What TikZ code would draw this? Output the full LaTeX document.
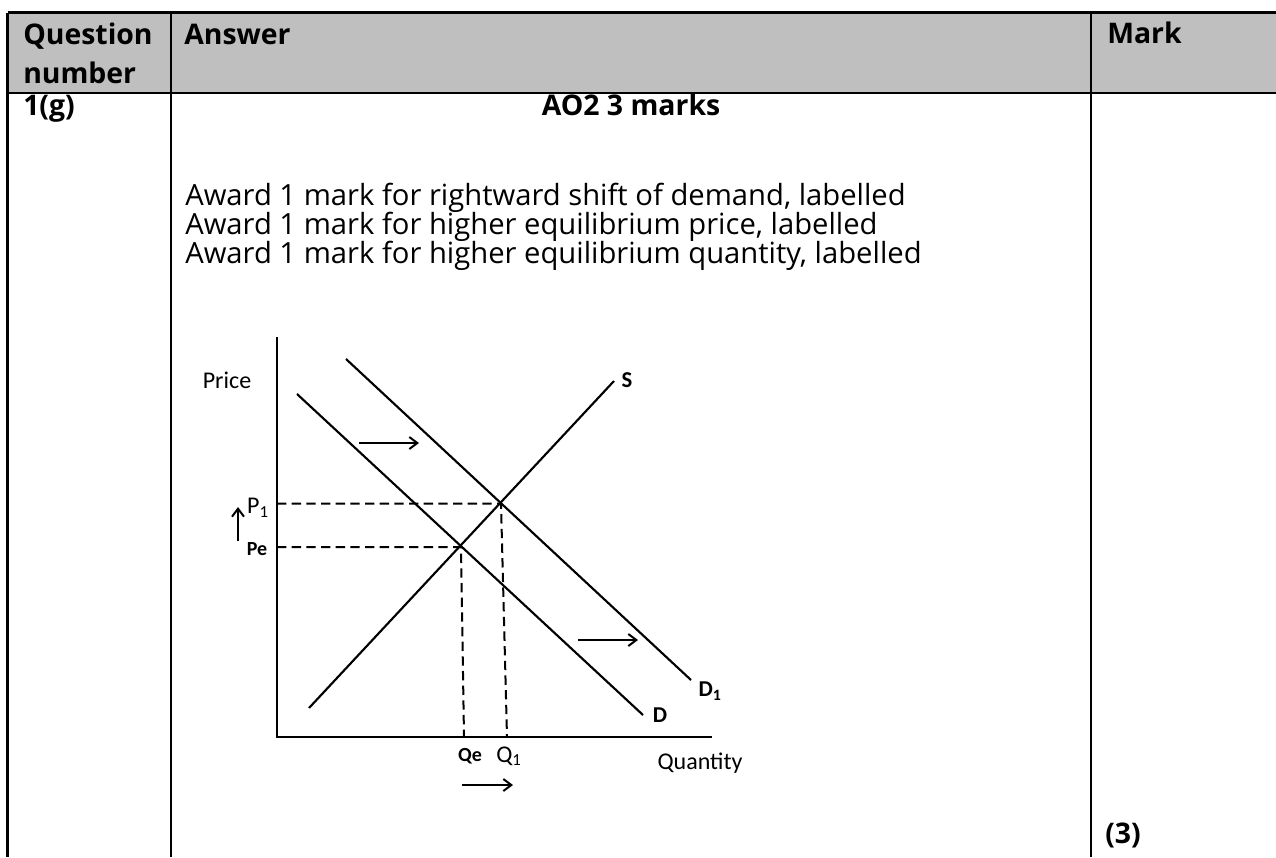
\documentclass[tikz,border=0pt]{standalone}
\usepackage{fontspec}
\setmainfont{Open Sans}
\newfontfamily\graphfont{Carlito}
\usetikzlibrary{arrows.meta}
\definecolor{headgray}{HTML}{BFBFBF}
\begin{document}
\begin{tikzpicture}[x=0.75pt,y=-0.75pt,
  rule/.style={line width=2pt},
  curve/.style={line width=1.6pt},
  guide/.style={line width=1.5pt, dash pattern=on 7pt off 4pt},
  shiftarrow/.style={line width=1.5pt,-{Straight Barb[length=6pt,width=9pt]}},
  cell/.style={inner sep=0pt, anchor=base west, font=\fontsize{21.9}{26}\selectfont},
  cellbold/.style={cell, font=\fontsize{21.3}{26}\selectfont\bfseries},
  glabel/.style={inner sep=0pt, font=\graphfont\fontsize{18}{20}\selectfont},
  gbold/.style={inner sep=0pt, font=\graphfont\fontsize{15}{18}\selectfont\bfseries},
  cbold/.style={inner sep=0pt, font=\graphfont\fontsize{17}{19}\selectfont\bfseries},
]
\useasboundingbox (0,0) rectangle (1276,857);
% table
\fill[headgray] (7.7,12.5) rectangle (1276,93);
\draw[rule] (7.7,12.5) -- (1276,12.5);
\draw[rule] (7.7,93) -- (1276,93);
\draw[rule] (7.7,12.5) -- (7.7,857);
\draw[rule] (171,12.5) -- (171,857);
\draw[rule] (1091,12.5) -- (1091,857);
% texts
\node[cellbold] (qn1) at (23,44) {Question};
\node[cellbold] (qn2) at (23,83) {number};
\node[cellbold] (ans) at (184,44) {Answer};
\node[cellbold] (mark) at (1107,43) {Mark};
\node[cellbold] (qid) at (23,115) {1(g)};
\node[cellbold, anchor=base] (ao) at (631,115) {AO2 3 marks};
\node[cell] (l1) at (185,205) {Award 1 mark for rightward shift of demand, labelled};
\node[cell] (l2) at (185,234) {Award 1 mark for higher equilibrium price, labelled};
\node[cell] (l3) at (185,263) {Award 1 mark for higher equilibrium quantity, labelled};
\node[cellbold] (score) at (1105,843) {(3)};
% graph
\coordinate (O) at (277,737);
\coordinate (ytop) at (277,337);
\coordinate (xend) at (712,737);
\draw[curve] (ytop) -- (O) -- (xend);
\coordinate (Sa) at (309,708); \coordinate (Sb) at (614,381);
\coordinate (Da) at (297,394); \coordinate (Db) at (643,715);
\coordinate (D1a) at (346,359); \coordinate (D1b) at (691,680);
\coordinate (E0) at (461,547); \coordinate (E1) at (501,503.5);
\coordinate (PeAx) at (277,547); \coordinate (P1Ax) at (277,503.5);
\coordinate (QeAx) at (464,737); \coordinate (Q1Ax) at (507,737);
\draw[guide] (PeAx) -- (E0) -- (QeAx);
\draw[guide] (P1Ax) -- (E1) -- (Q1Ax);
\draw[curve] (Sa) -- (Sb);
\draw[curve] (Da) -- (Db);
\draw[curve] (D1a) -- (D1b);
\coordinate (a1s) at (359,443); \coordinate (a1e) at (419,443);
\coordinate (a2s) at (578,640); \coordinate (a2e) at (638,640);
\coordinate (a3s) at (462,785); \coordinate (a3e) at (513,785);
\coordinate (a4s) at (238,541); \coordinate (a4e) at (238,507);
\draw[shiftarrow] (a1s) -- (a1e);
\draw[shiftarrow] (a2s) -- (a2e);
\draw[shiftarrow] (a3s) -- (a3e);
\draw[shiftarrow] (a4s) -- (a4e);
% labels
\node[glabel] (price) at (227,380) {Price};
\node[glabel] (qty) at (700,763) {Quantity};
\node[glabel] (p1) at (258,508) {P\textsubscript{1}};
\node[gbold] (pe) at (257,549) {Pe};
\node[gbold] (qe) at (470,756) {Qe};
\node[glabel] (q1) at (509,756) {Q\textsubscript{1}};
\node[cbold] (dl) at (660,715) {D};
\node[cbold] (d1l) at (710,691) {D\textsubscript{1}};
\node[cbold] (sl) at (627,380) {S};
\end{tikzpicture}
\end{document}
